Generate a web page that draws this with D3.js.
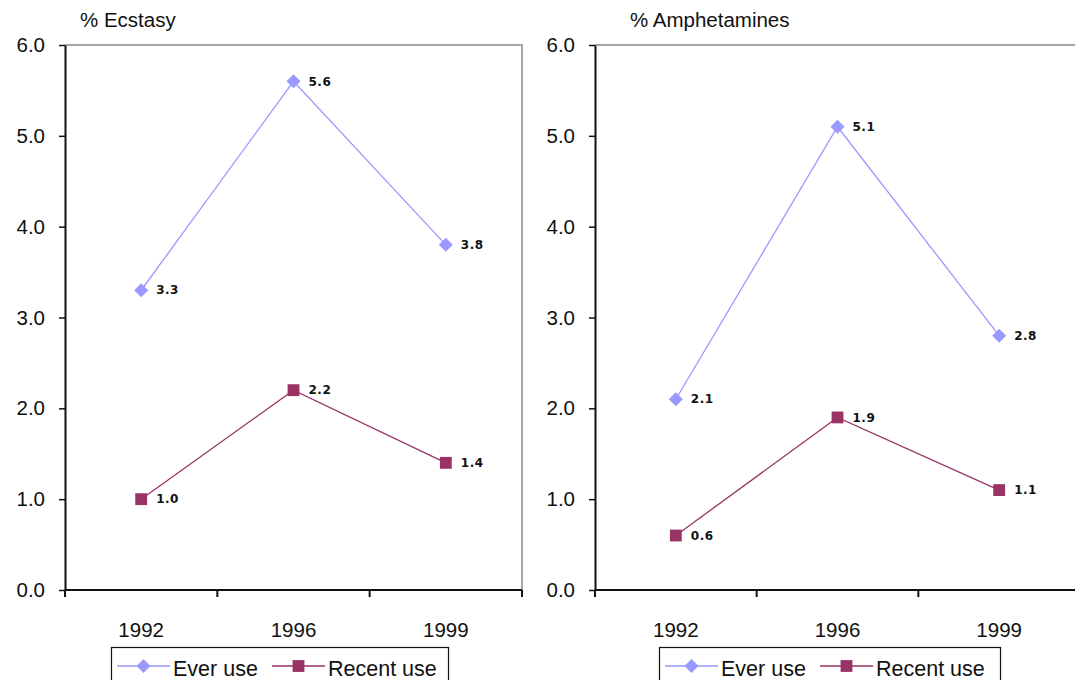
<!DOCTYPE html>
<html>
<head>
<meta charset="utf-8">
<script src="https://cdn.jsdelivr.net/npm/d3@7"></script>
<style>
  html, body { margin: 0; padding: 0; background: #fff; }
  svg { display: block; }
  text { font-family: "Liberation Sans", Arial, sans-serif; fill: #111; }
</style>
</head>
<body>
<svg id="chart" width="1075" height="680"></svg>
<script>
// Survey years (categories)
const years = ["1992", "1996", "1999"];

// Ecstasy prevalence, %
const ecstasyEver = [3.3, 5.6, 3.8];
const ecstasyRecent = [1.0, 2.2, 1.4];

// Amphetamine prevalence, %
const amphEver = [2.1, 5.1, 2.8];
const amphRecent = [0.6, 1.9, 1.1];

// Y axis ticks
const yTicks = [0, 1, 2, 3, 4, 5, 6];

const seriesNames = ["Ever use", "Recent use"];
const colors = { ever: "#9999ff", recent: "#993366" };

const svg = d3.select("#chart");

const panels = [
  { title: "% Ecstasy", ever: ecstasyEver, recent: ecstasyRecent,
    left: 65, right: 522, titleX: 80, legendX: 111, legendW: 337 },
  { title: "% Amphetamines", ever: amphEver, recent: amphRecent,
    left: 595, right: 1080, titleX: 630, legendX: 659, legendW: 341 }
];

const plotTop = 45, plotBottom = 590;
const axisFont = "20.5px";

const diamond = d3.symbol().type(d3.symbolSquare).size(98);
const square = d3.symbol().type(d3.symbolSquare).size(140);

function drawPanel(p) {
  const g = svg.append("g");

  const x = d3.scaleBand().domain(years).range([p.left, p.right]).paddingInner(0).paddingOuter(0);
  const y = d3.scaleLinear().domain([0, 6]).range([plotBottom, plotTop]);

  // plot frame: grey top and right edges
  g.append("path")
    .attr("d", `M${p.left},${plotTop}H${p.right}V${plotBottom}`)
    .attr("fill", "none").attr("stroke", "#a6a6a6").attr("stroke-width", 2);

  // title
  g.append("text").attr("x", p.titleX).attr("y", 27)
    .style("font-size", axisFont).text(p.title);

  // y axis
  const yAxis = g.append("g").attr("transform", `translate(${p.left},0)`)
    .call(d3.axisLeft(y).tickValues(yTicks).tickFormat(d3.format(".1f"))
      .tickSize(6).tickPadding(14).tickSizeOuter(0));
  yAxis.select(".domain").attr("stroke", "#111").attr("stroke-width", 2);
  yAxis.selectAll(".tick line").attr("stroke", "#111").attr("stroke-width", 1.5);
  yAxis.selectAll("text").style("font-size", axisFont).attr("fill", "#111")
    .style("font-family", "Liberation Sans, Arial, sans-serif");

  // x axis: category labels centred in bands, ticks at band boundaries
  const xAxis = g.append("g").attr("transform", `translate(0,${plotBottom})`)
    .call(d3.axisBottom(x).tickSize(0).tickPadding(32));
  xAxis.select(".domain").remove();
  xAxis.selectAll("text").style("font-size", axisFont).attr("fill", "#111")
    .style("font-family", "Liberation Sans, Arial, sans-serif");
  g.append("line").attr("x1", p.left).attr("x2", p.right)
    .attr("y1", plotBottom).attr("y2", plotBottom)
    .attr("stroke", "#111").attr("stroke-width", 2);
  const bounds = years.map(d => x(d)).concat([x(years[years.length - 1]) + x.bandwidth()]);
  g.selectAll(".xtick").data(bounds).join("line")
    .attr("x1", d => d).attr("x2", d => d)
    .attr("y1", plotBottom).attr("y2", plotBottom + 7)
    .attr("stroke", "#111").attr("stroke-width", 2);

  const cx = d => x(d) + x.bandwidth() / 2;
  const line = d3.line().x(d => cx(d.year)).y(d => y(d.v));

  const series = [
    { key: "ever", vals: p.ever, sym: diamond, rot: 45 },
    { key: "recent", vals: p.recent, sym: square, rot: 0 }
  ];

  series.forEach(s => {
    const pts = years.map((yr, i) => ({ year: yr, v: s.vals[i] }));
    g.append("path").datum(pts).attr("d", line)
      .attr("fill", "none").attr("stroke", colors[s.key]).attr("stroke-width", 1.3);
    g.selectAll(".m-" + s.key).data(pts).join("path")
      .attr("d", s.sym)
      .attr("transform", d => `translate(${cx(d.year)},${y(d.v)}) rotate(${s.rot})`)
      .attr("fill", colors[s.key]);
    g.selectAll(".l-" + s.key).data(pts).join("text")
      .attr("x", d => cx(d.year) + 15).attr("y", d => y(d.v))
      .attr("dy", "0.35em")
      .style("font-size", "12px").style("font-weight", "bold")
      .style("letter-spacing", "0.5px")
      .style("font-family", "DejaVu Sans, sans-serif")
      .text(d => d.v.toFixed(1));
  });

  // legend
  const lg = g.append("g");
  lg.append("rect").attr("x", p.legendX + 0.5).attr("y", 647.5)
    .attr("width", p.legendW).attr("height", 45)
    .attr("fill", "#fff").attr("stroke", "#111").attr("stroke-width", 1.2);
  const ly = 666;
  const items = [
    { name: seriesNames[0], key: "ever", sym: diamond, rot: 45, x0: p.legendX + 6 },
    { name: seriesNames[1], key: "recent", sym: square, rot: 0, x0: p.legendX + 161 }
  ];
  items.forEach(it => {
    lg.append("line").attr("x1", it.x0).attr("x2", it.x0 + 53)
      .attr("y1", ly).attr("y2", ly)
      .attr("stroke", colors[it.key]).attr("stroke-width", 1.5);
    lg.append("path").attr("d", it.sym)
      .attr("transform", `translate(${it.x0 + 26.5},${ly}) rotate(${it.rot})`)
      .attr("fill", colors[it.key]);
    lg.append("text").attr("x", it.x0 + 56).attr("y", ly + 10)
      .style("font-size", "21.5px").text(it.name);
  });
}

panels.forEach(drawPanel);
</script>
</body>
</html>
